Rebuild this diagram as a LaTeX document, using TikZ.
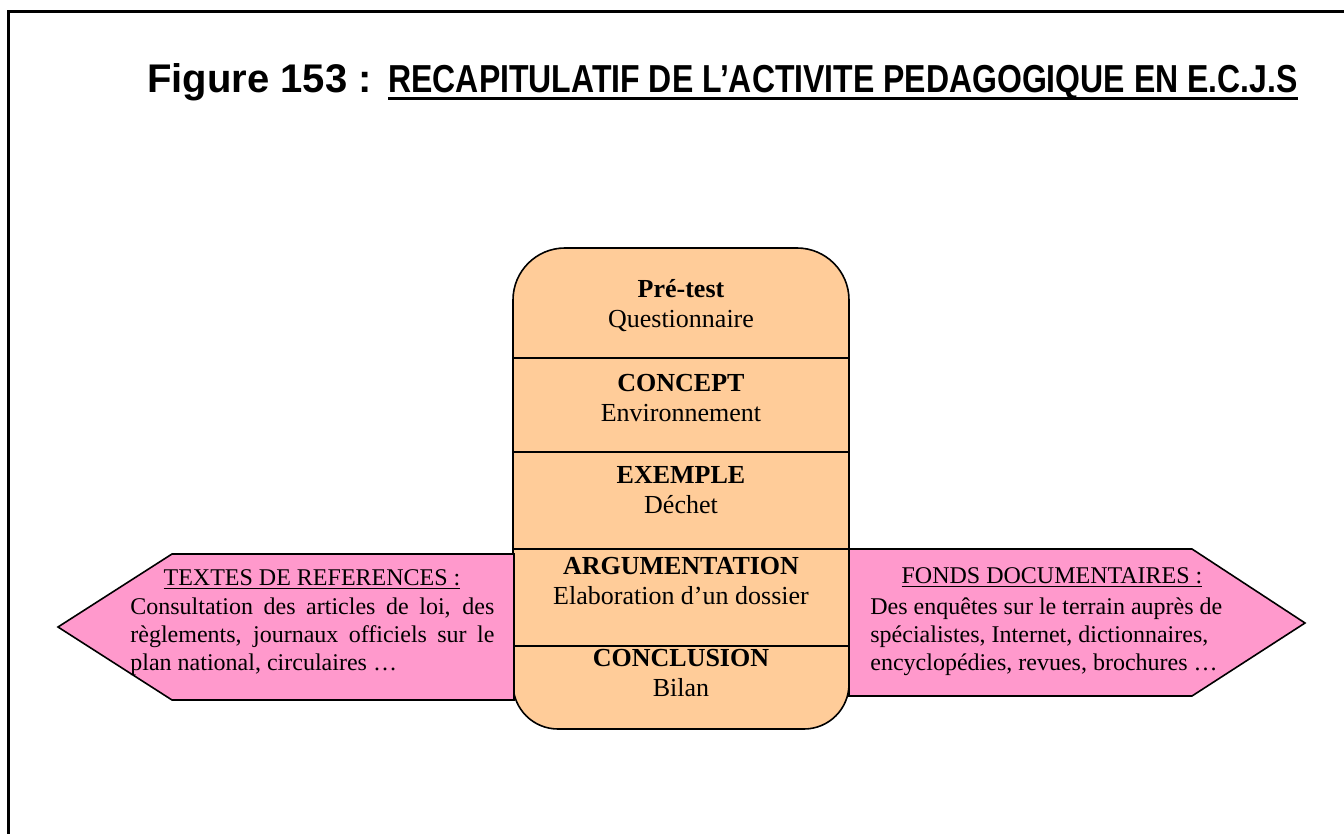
\documentclass[tikz,border=0pt]{standalone}
\usepackage{fontspec}
\setmainfont{Liberation Serif}
\newfontfamily\arialfont{Liberation Sans}
\definecolor{boxorange}{HTML}{FFCC99}
\definecolor{arrowpink}{HTML}{FF99CC}
\tikzset{
  frameline/.style={line width=1.5pt, line cap=rect},
  centerbox/.style={draw=black, line width=0.8pt, fill=boxorange},
  divider/.style={draw=black, line width=0.8pt},
  sidearrow/.style={draw=black, line width=0.8pt, fill=arrowpink, line join=miter},
  sectiontext/.style={inner sep=0pt, align=center, font=\fontsize{13}{15}\selectfont},
  sidetext/.style={inner sep=0pt, anchor=base west, font=\fontsize{12}{14}\selectfont},
  sidehead/.style={inner sep=0pt, anchor=base, font=\fontsize{12}{14}\selectfont},
  titletext/.style={inner sep=0pt, anchor=base west, font=\arialfont\bfseries\fontsize{19.5}{22}\selectfont}
}
\begin{document}
\begin{tikzpicture}[x=0.5pt,y=-0.5pt]
\useasboundingbox (0,0) rectangle (1344,834);
% frame
\draw[frameline] (8,840) -- (8,12) -- (1350,12);
% title
\node[titletext, font=\arialfont\bfseries\fontsize{20}{22}\selectfont] (title1) at (147,93) {Figure 153 :};
\node[titletext] (title2) at (388,93) {\scalebox{0.82}[1]{RECAPITULATIF DE L’ACTIVITE PEDAGOGIQUE EN E.C.J.S}};
\draw[line width=1.5pt] ([yshift=-3pt]title2.base west) -- ([yshift=-3pt]title2.base east);
% central box
\path[centerbox] (513,300) arc[start angle=180,end angle=90,radius=26pt]
  -- (797,248) arc[start angle=90,end angle=0,radius=26pt]
  -- (849,684) arc[start angle=0,end angle=-90,radius=22.5pt]
  -- (558,729) arc[start angle=270,end angle=180,radius=22.5pt] -- cycle;
\draw[divider] (513,358) -- (849,358);
\draw[divider] (513,452) -- (849,452);
\draw[divider] (513,549) -- (849,549);
\draw[divider] (513,646) -- (849,646);
\node[sectiontext] (s1) at (681,306) {\textbf{Pré-test}\\Questionnaire};
\node[sectiontext] (s2) at (681,398) {\textbf{CONCEPT}\\Environnement};
\node[sectiontext] (s3) at (681,490) {\textbf{EXEMPLE}\\Déchet};
\node[sectiontext] (s4) at (681,581) {\textbf{ARGUMENTATION}\\Elaboration d’un dossier};
\node[sectiontext] (s5) at (681,673) {\textbf{CONCLUSION}\\Bilan};
% left arrow
\path[sidearrow] (514,554) -- (172,554) -- (58,627) -- (172,700) -- (514,700) -- cycle;
\node[sidehead] (lh) at (312,585) {\underline{TEXTES DE REFERENCES :}};
\node[sidetext] (l1) at (130,614) {\makebox[182pt][s]{Consultation des articles de loi, des}};
\node[sidetext] (l2) at (130,642) {\makebox[182pt][s]{règlements, journaux officiels sur le}};
\node[sidetext] (l3) at (130,670) {plan national, circulaires …};
% right arrow
\path[sidearrow] (849,549) -- (1192,549) -- (1305,623) -- (1192,696) -- (849,696) -- cycle;
\node[sidehead] (rh) at (1052,583) {\underline{FONDS DOCUMENTAIRES :}};
\node[sidetext] (r1) at (870,614) {Des enquêtes sur le terrain auprès de};
\node[sidetext] (r2) at (870,642) {spécialistes, Internet, dictionnaires,};
\node[sidetext] (r3) at (870,670) {encyclopédies, revues, brochures …};
\end{tikzpicture}
\end{document}
